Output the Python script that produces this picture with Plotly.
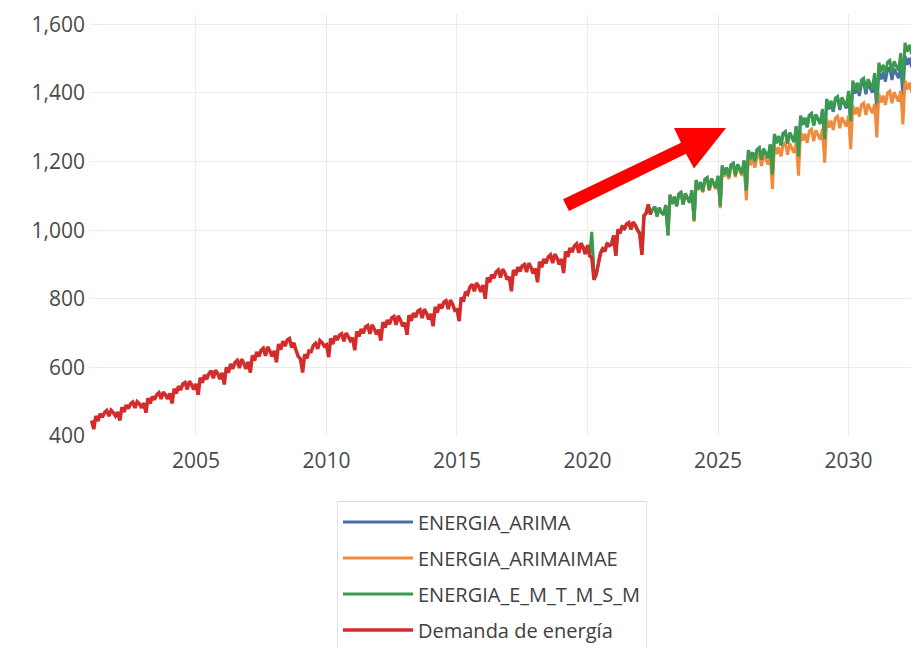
import pandas as pd
import plotly.graph_objects as go

# monthly energy demand, 2001-01 .. 2022-06
demanda = [
    445, 420, 458, 444, 465, 455, 468, 474, 458, 475, 468, 458,  # 2001
    470, 445, 484, 470, 490, 480, 494, 499, 482, 500, 494, 482,  # 2002
    496, 468, 510, 495, 515, 506, 520, 526, 508, 528, 520, 508,  # 2003
    524, 495, 538, 524, 545, 534, 552, 556, 536, 560, 550, 535,  # 2004
    552, 520, 570, 555, 578, 566, 582, 590, 568, 592, 582, 566,  # 2005
    584, 550, 600, 585, 610, 596, 614, 620, 598, 624, 612, 596,  # 2006
    616, 585, 635, 620, 645, 632, 650, 656, 634, 660, 648, 632,  # 2007
    648, 615, 668, 652, 676, 662, 680, 684, 658, 672, 650, 632,  # 2008
    625, 585, 638, 626, 648, 646, 664, 670, 654, 678, 672, 662,  # 2009
    666, 630, 684, 668, 692, 680, 694, 698, 676, 700, 690, 678,  # 2010
    686, 650, 705, 690, 712, 700, 718, 722, 698, 724, 712, 696,  # 2011
    710, 678, 732, 716, 738, 726, 744, 748, 724, 750, 738, 720,  # 2012
    730, 695, 752, 736, 758, 746, 764, 768, 744, 770, 758, 740,  # 2013
    756, 720, 776, 760, 784, 772, 790, 794, 770, 796, 784, 766,  # 2014
    768, 735, 804, 792, 820, 814, 834, 842, 822, 846, 836, 820,  # 2015
    840, 800, 862, 848, 870, 860, 878, 884, 862, 886, 876, 856,  # 2016
    864, 822, 884, 868, 892, 880, 896, 900, 878, 904, 892, 874,  # 2017
    888, 848, 908, 892, 916, 904, 922, 928, 904, 930, 918, 900,  # 2018
    916, 875, 938, 922, 948, 936, 954, 960, 934, 962, 950, 930,  # 2019
    955, 925, 920, 855, 870, 900, 932, 945, 938, 962, 955, 958,  # 2020
    985, 925, 1002, 992, 1012, 1002, 1018, 1022, 1002, 1024, 1015, 1000,  # 2021
    990, 928, 1042, 1050, 1075, 1045,  # 2022
]

# ENERGIA_E_M_T_M_S_M, 2020-01 .. 2033-06
energia_emtmsm = [
    958, 928, 995, 880, 868, 905, 935, 948, 938, 960, 955, 960,  # 2020
    982, 928, 1000, 990, 1010, 1004, 1016, 1020, 1004, 1022, 1013, 1002,  # 2021
    992, 932, 1040, 1048, 1072, 1046, 1060, 1068, 1040, 1065, 1052, 1045,  # 2022
    1073, 985, 1103, 1077, 1097, 1070, 1105, 1110, 1075, 1107, 1093, 1080,  # 2023
    1116, 1028, 1146, 1120, 1140, 1113, 1148, 1153, 1118, 1150, 1136, 1123,  # 2024
    1158, 1070, 1188, 1162, 1182, 1155, 1190, 1195, 1160, 1192, 1178, 1165,  # 2025
    1203, 1115, 1233, 1207, 1227, 1200, 1235, 1240, 1205, 1237, 1223, 1210,  # 2026
    1250, 1162, 1280, 1254, 1274, 1247, 1282, 1287, 1252, 1284, 1270, 1257,  # 2027
    1303, 1215, 1333, 1307, 1327, 1300, 1335, 1340, 1305, 1337, 1323, 1310,  # 2028
    1353, 1265, 1383, 1357, 1377, 1350, 1385, 1390, 1355, 1387, 1373, 1360,  # 2029
    1406, 1318, 1436, 1410, 1430, 1403, 1438, 1443, 1408, 1440, 1426, 1413,  # 2030
    1458, 1370, 1488, 1462, 1482, 1455, 1490, 1495, 1460, 1492, 1478, 1465,  # 2031
    1516, 1428, 1546, 1520, 1540, 1513, 1548, 1553, 1518, 1550, 1536, 1523,  # 2032
    1563, 1475, 1593, 1567, 1587, 1560,  # 2033
]

# ENERGIA_ARIMAIMAE, 2022-07 .. 2033-06
energia_arimaimae = [
    1060, 1068, 1040, 1065, 1052, 1045,  # 2022
    1073, 985, 1103, 1077, 1097, 1070, 1105, 1110, 1075, 1107, 1093, 1080,  # 2023
    1113, 1025, 1143, 1117, 1137, 1110, 1145, 1150, 1115, 1147, 1133, 1120,  # 2024
    1152, 1064, 1182, 1156, 1176, 1149, 1184, 1189, 1154, 1186, 1172, 1159,  # 2025
    1185, 1087, 1215, 1189, 1209, 1182, 1217, 1222, 1187, 1219, 1205, 1192,  # 2026
    1218, 1120, 1248, 1222, 1242, 1215, 1250, 1255, 1220, 1252, 1238, 1225,  # 2027
    1257, 1159, 1287, 1261, 1281, 1254, 1289, 1294, 1259, 1291, 1277, 1264,  # 2028
    1295, 1197, 1325, 1299, 1319, 1292, 1327, 1332, 1297, 1329, 1315, 1302,  # 2029
    1334, 1236, 1364, 1338, 1358, 1331, 1366, 1371, 1336, 1368, 1354, 1341,  # 2030
    1368, 1270, 1398, 1372, 1392, 1365, 1400, 1405, 1370, 1402, 1388, 1375,  # 2031
    1406, 1308, 1436, 1410, 1430, 1403, 1438, 1443, 1408, 1440, 1426, 1413,  # 2032
    1441, 1343, 1471, 1445, 1465, 1438,  # 2033
]

# ENERGIA_ARIMA, 2022-07 .. 2033-06
energia_arima = [
    1060, 1068, 1040, 1065, 1052, 1045,  # 2022
    1073, 985, 1103, 1077, 1097, 1070, 1105, 1110, 1075, 1107, 1093, 1080,  # 2023
    1116, 1028, 1146, 1120, 1140, 1113, 1148, 1153, 1118, 1150, 1136, 1123,  # 2024
    1158, 1070, 1188, 1162, 1182, 1155, 1190, 1195, 1160, 1192, 1178, 1165,  # 2025
    1203, 1115, 1233, 1207, 1227, 1200, 1235, 1240, 1205, 1237, 1223, 1210,  # 2026
    1250, 1162, 1280, 1254, 1274, 1247, 1282, 1287, 1252, 1284, 1270, 1257,  # 2027
    1303, 1215, 1333, 1307, 1327, 1300, 1335, 1340, 1305, 1337, 1323, 1310,  # 2028
    1348, 1260, 1378, 1352, 1372, 1345, 1380, 1385, 1350, 1382, 1368, 1355,  # 2029
    1394, 1306, 1424, 1398, 1418, 1391, 1426, 1431, 1396, 1428, 1414, 1401,  # 2030
    1436, 1348, 1466, 1440, 1460, 1433, 1468, 1473, 1438, 1470, 1456, 1443,  # 2031
    1478, 1390, 1508, 1482, 1502, 1475, 1510, 1515, 1480, 1512, 1498, 1485,  # 2032
    1515, 1427, 1545, 1519, 1539, 1512,  # 2033
]

x_demanda = pd.date_range('2001-01-01', periods=len(demanda), freq='MS')
x_emtmsm = pd.date_range('2020-01-01', periods=len(energia_emtmsm), freq='MS')
x_fc = pd.date_range('2022-07-01', periods=len(energia_arima), freq='MS')

fig = go.Figure()
fig.add_trace(go.Scatter(x=x_fc, y=energia_arima, mode='lines', name='ENERGIA_ARIMA',
                         legendgroup='a', line=dict(color='#4a6fa8', width=3)))
fig.add_trace(go.Scatter(x=x_fc, y=energia_arimaimae, mode='lines', name='ENERGIA_ARIMAIMAE',
                         legendgroup='b', line=dict(color='#f08a3c', width=3)))
fig.add_trace(go.Scatter(x=x_emtmsm, y=energia_emtmsm, mode='lines', name='ENERGIA_E_M_T_M_S_M',
                         legendgroup='c', line=dict(color='#3a9a4d', width=3)))
fig.add_trace(go.Scatter(x=x_demanda, y=demanda, mode='lines', name='Demanda de energía',
                         legendgroup='d', line=dict(color='#d42b2b', width=3.5)))

# page body has an 8px margin, so layout positions are screen positions minus 8
OFF = 8
L, T, W, H = 82, 2, 829, 426

def px(sx, sy):
    return (sx - OFF - L) / W, (T + H - (sy - OFF)) / H

# big red arrow (screen pixel outline)
pts = [(563, 197), (681, 140), (674, 125), (726, 125), (694, 166), (686, 151), (569, 209)]
path = 'M ' + ' L '.join('%.4f,%.4f' % px(a, b) for a, b in pts) + ' Z'
fig.add_shape(type='path', path=path, xref='paper', yref='paper',
              fillcolor='#ff0000', line=dict(width=0))

fig.update_xaxes(range=['2000-12-10', '2032-09-13'], tick0='2005-01-01', dtick='M60',
                 tickformat='%Y', showgrid=True, gridcolor='#ececec', gridwidth=1,
                 showline=False, zeroline=False, ticks='', ticklabelstandoff=10,
                 tickfont=dict(family='Open Sans', size=21, color='#4a4a4a'))
fig.update_yaxes(range=[400, 1630], dtick=200, tickformat=',', showgrid=True,
                 gridcolor='#ececec', gridwidth=1, showline=False, zeroline=False, ticks='',
                 ticklabelstandoff=4, ticklabeloverflow='allow',
                 tickfont=dict(family='Open Sans', size=21, color='#4a4a4a'))
lx, ly = px(337, 502)
fig.update_layout(
    width=919, height=648,
    margin=dict(l=L, r=919 - L - W, t=T, b=648 - T - H),
    plot_bgcolor='white', paper_bgcolor='white',
    showlegend=True,
    legend=dict(x=lx, xanchor='left', y=ly, yanchor='top',
                traceorder='grouped', tracegroupgap=7, itemwidth=70,
                bordercolor='#dddddd', borderwidth=1, bgcolor='white',
                font=dict(family='Open Sans', size=20, color='#404040')),
)
fig.write_html("out.html")
